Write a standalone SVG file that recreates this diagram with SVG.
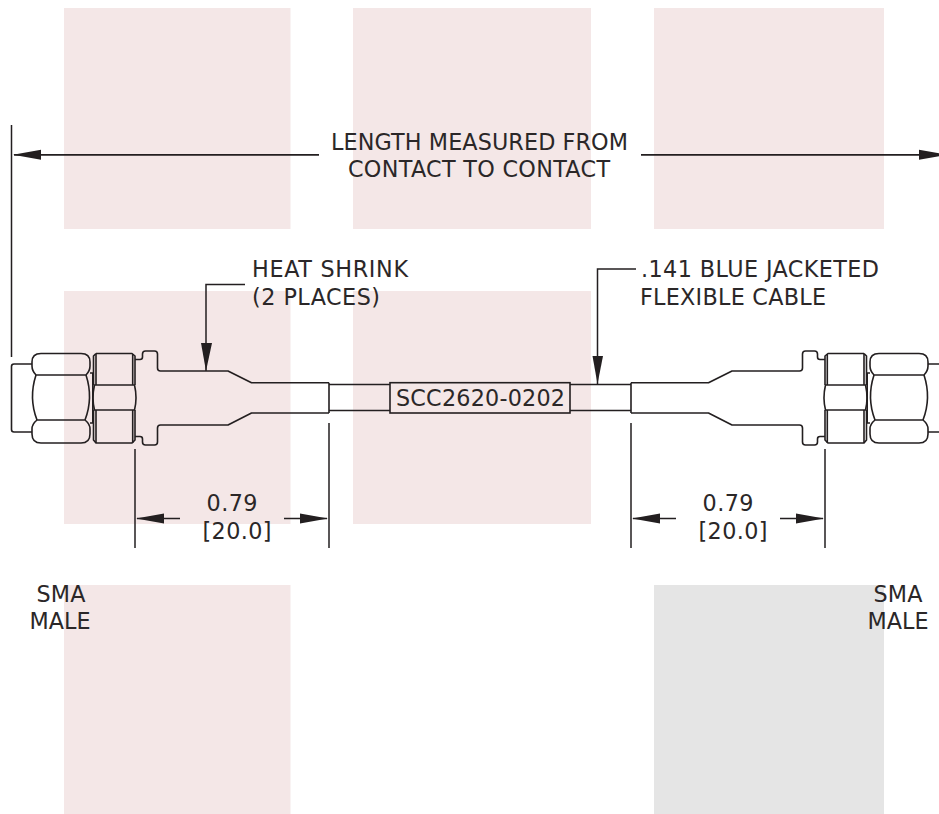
<svg xmlns="http://www.w3.org/2000/svg" width="939" height="814" viewBox="0 0 939 814">
<defs>
<style>
.bg{fill:#f4e7e7}
.gr{fill:#e5e5e5}
.ln{fill:none;stroke:#231f20;stroke-width:1.6;stroke-linejoin:round}
.dm{fill:none;stroke:#231f20;stroke-width:1.5}
.ah{fill:#231f20;stroke:none}
text{font-family:"DejaVu Sans",Verdana,sans-serif;font-size:22.3px;fill:#2b2728}
</style>
<g id="conn">
<path class="ln" d="M32 364H14Q11.500 364 11.500 366.500V429.500Q11.500 432 14 432H32"/>
<path class="ln" d="M41 353.500H81Q90 353.500 90 362V366Q90 371 86 375H36Q32 371 32 366V362Q32 353.500 41 353.500Z"/>
<path class="ln" d="M36 375Q28.500 398 37 420M86 375Q93.500 398 85 420"/>
<path class="ln" d="M37 420H85Q90 424 90 429V434Q90 443 81 443H41Q32 443 32 434V429Q32 424 37 420Z"/>
<path class="ln" d="M90 373H93M90 423H93M92.800 373V423"/>
<path class="ln" d="M96 353.500H132L135 356V385M135 410V440L132 443H96L93.500 440V410M93.500 385V356L96 353.500"/>
<path class="ln" d="M96 354V385M96 410V443M132.700 354V385M132.700 410V443M93.500 385H135M93.500 410H135M94.500 385Q91.500 398 94.500 410M134.500 385Q137.500 398 134.500 410"/>
<path class="ln" d="M135 359.500H140Q142.500 359.500 142.500 357V354Q142.500 351 145.500 351H154.500Q157.500 351 157.500 354V368Q157.500 371 160.500 371H228L251.500 382.700H329M135 436.500H140Q142.500 436.500 142.500 439V442Q142.500 445 145.500 445H154.500Q157.500 445 157.500 442V428Q157.500 425 160.500 425H228L251.500 413H329M329 382.700V413"/>
</g>
</defs>
<g id="backdrop">
<rect class="bg" x="64" y="8" width="226.500" height="221"/>
<rect class="bg" x="353" y="8" width="238" height="221"/>
<rect class="bg" x="654" y="8" width="230" height="221"/>
<rect class="bg" x="64" y="291" width="226.500" height="233"/>
<rect class="bg" x="353" y="291" width="238" height="233"/>
<rect class="bg" x="64" y="585" width="226.500" height="229"/>
<rect class="gr" x="654" y="585" width="230" height="229"/>
</g>
<g id="connectors">
<path class="dm" d="M11.500 125V357M135 449V548M329 423V548M631 423V548M825 449V548"/>
<path class="dm" style="stroke-width:1.800" d="M14 154.800H319M641 154.800H939"/>
<path class="ah" d="M13 154.800L41 149.800V159.800ZM947 154.800L919 149.800V159.800Z"/>
<path class="dm" d="M245 284.500H206V371"/>
<path class="ah" d="M206 371L201 343H212Z"/>
<path class="dm" d="M636 269H597.500V384"/>
<path class="ah" d="M597.500 384L592.500 356H603Z"/>
<path class="dm" d="M329 384.500H390M329 410.500H390M570 384.500H631M570 410.500H631"/>
<path class="dm" d="M137 518.500H180M284 518.500H327M633 518.500H676M780 518.500H823"/>
<path class="ah" d="M136 518.500L164 513.500V523.500ZM328 518.500L300 513.500V523.500ZM632 518.500L660 513.500V523.500ZM824 518.500L796 513.500V523.500Z"/>
</g>
<g id="label-length"><text x="331" y="149.500" textLength="297">LENGTH MEASURED FROM</text><text x="348" y="177" textLength="262">CONTACT TO CONTACT</text></g>
<g id="label-heat-shrink"><text x="252" y="277" textLength="156">HEAT SHRINK</text><text x="252" y="304.500" textLength="128">(2 PLACES)</text></g>
<g id="label-cable"><text x="641" y="277" textLength="238">.141 BLUE JACKETED</text><text x="640" y="304.500" textLength="186">FLEXIBLE CABLE</text></g>
<g id="node-part-number"><rect x="390" y="382.700" width="180" height="30.300" fill="none" stroke="#231f20" stroke-width="1.6"/><text x="396" y="406" textLength="169">SCC2620-0202</text></g>
<g id="connector-left"><use href="#conn"/></g>
<g id="connector-right"><use href="#conn" transform="matrix(-1 0 0 1 960 0)"/></g>
<g id="dim-left"><text x="206.500" y="511" textLength="51">0.79</text><text x="202.500" y="538.500" textLength="69">[20.0]</text></g>
<g id="dim-right"><text x="702.500" y="511" textLength="51">0.79</text><text x="698.500" y="538.500" textLength="69">[20.0]</text></g>
<g id="label-sma-left"><text x="36.500" y="602" textLength="49">SMA</text><text x="29.500" y="629" textLength="61">MALE</text></g>
<g id="label-sma-right"><text x="873.500" y="602" textLength="49">SMA</text><text x="867.500" y="629" textLength="61">MALE</text></g>
</svg>
